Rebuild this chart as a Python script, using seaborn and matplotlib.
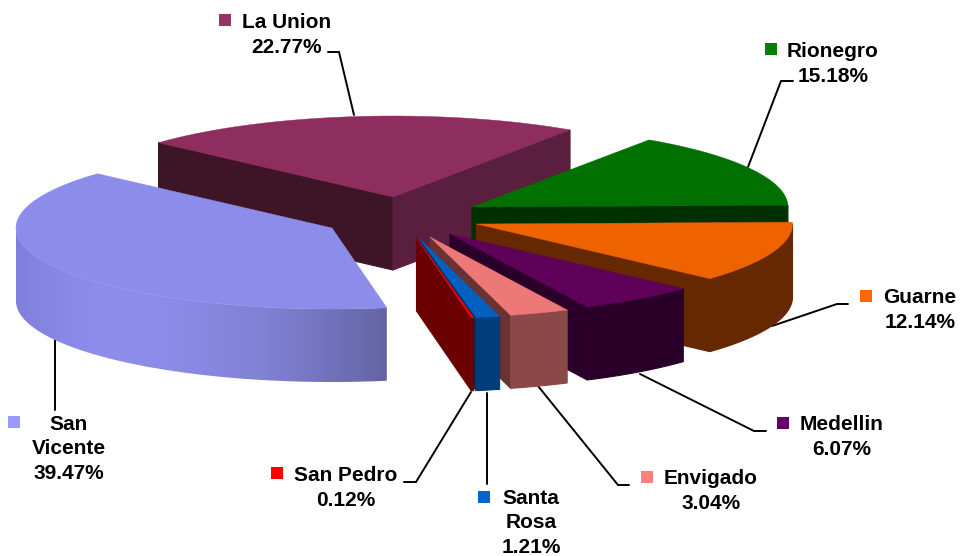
import numpy as np
import matplotlib
matplotlib.use("Agg")
import matplotlib.pyplot as plt
from matplotlib.patches import Polygon
from matplotlib.colors import LinearSegmentedColormap
import seaborn as sns

# ---- data ----
towns = ["La Union", "Rionegro", "Guarne", "Medellin", "Envigado", "Santa Rosa", "San Pedro", "San Vicente"]
shares = [22.77, 15.18, 12.14, 6.07, 3.04, 1.21, 0.12, 39.47]
label_texts = ["La Union\n22.77%", "Rionegro\n15.18%", "Guarne\n12.14%", "Medellin\n6.07%",
               "Envigado\n3.04%", "Santa\nRosa\n1.21%", "San Pedro\n0.12%", "San\nVicente\n39.47%"]
top_colors = ["#8E2E5E", "#007000", "#EE6200", "#5F0059", "#EE7777", "#0060C0", "#FF0000", "#8C8CEB"]
wall_colors = ["#5A1E3E", "#003000", "#662800", "#2A002A", "#8A4848", "#003D7A", "#6B0000", "#8C8CEB"]
cut_colors = ["#5A1E3E", "#003000", "#662800", "#2A002A", "#6A3333", "#00305F", "#6B0000", "#8C8CEB"]
cut_colors_far = ["#3D1527", "#003000", "#662800", "#2A002A", "#6A3333", "#00305F", "#6B0000", "#8C8CEB"]
key_colors = ["#993366", "#008000", "#FF6600", "#660066", "#FF8080", "#0066CC", "#FF0000", "#9999FF"]

# ---- layout (pixel space of the figure) ----
W, H = 961, 556
A, B, DEPTH = 316.0, 81.0, 73.0
START = 137.9
apex = [(393, 197), (472, 207), (476.5, 224), (450, 234), (430, 237), (419, 238), (416.5, 238), (332, 228)]
text_xy = [(287, 35), (833, 64), (920, 310), (842, 437), (711, 491), (531, 523), (346, 488), (69, 449)]
key_xy = [(224.5, 19.5), (770.5, 49), (865.5, 295.5), (782.5, 422.5), (646.5, 476.5), (484, 496.5), (277, 473), (14, 422)]
leaders = [
    [(328, 52), (339, 52), (354, 115)],
    [(748, 167), (781, 81), (793, 81)],
    [(772, 326), (837, 304), (848, 304)],
    [(640, 374), (754, 431), (766, 431)],
    [(538, 386), (618, 485), (629, 485)],
    [(487, 393), (487, 484)],
    [(471, 392), (416, 482), (404, 482)],
    [(55, 340), (55, 410)],
]

sns.set_theme(style="white")
plt.rcParams["font.family"] = ["Liberation Sans", "DejaVu Sans"]
fig = plt.figure(figsize=(W / 100, H / 100), dpi=100)
ax = fig.add_axes([0, 0, 1, 1])
palette = sns.color_palette(top_colors)

def rim(cx, cy, t):
    r = np.radians(t)
    return cx + A * np.cos(r), cy - B * np.sin(r)

order = list(range(len(towns)))
ang = START
z = 2
for i in order:
    t1 = ang
    t2 = ang - shares[i] * 3.6
    ang = t2
    cx, cy = apex[i]
    ts = np.linspace(t2, t1, 200)
    xs, ys = rim(cx, cy, ts)
    # cut faces
    for t, normal, col in ((t1, t1 + 90, cut_colors_far[i]), (t2, t2 - 90, cut_colors[i])):
        if np.sin(np.radians(normal)) < 0:
            x, y = rim(cx, cy, t)
            ax.add_patch(Polygon([(cx, cy), (x, y), (x, y + DEPTH), (cx, cy + DEPTH)],
                                 closed=True, fc=col, ec=col, lw=0.8, zorder=z))
            z += 1
    # outer wall
    vis = (np.sin(np.radians(ts)) < 0.0)
    if vis.any():
        vx, vy = xs[vis], ys[vis]
        pts = np.r_[np.c_[vx, vy], np.c_[vx, vy + DEPTH][::-1]]
        if towns[i] == "San Vicente":
            poly = Polygon(pts, closed=True, fc="none", ec="none", zorder=z)
            ax.add_patch(poly)
            cmap = LinearSegmentedColormap.from_list(
                "wall", [(0, "#8080DC"), (0.2, "#8C8CEB"), (0.42, "#8C8CE8"), (0.7, "#7F7FD2"), (1, "#6464A4")])
            img = ax.imshow(np.linspace(0, 1, 256)[None, :], cmap=cmap, vmin=0, vmax=1,
                            extent=[vx.min(), vx.max(), H, 0], aspect="auto", zorder=z)
            img.set_clip_path(poly)
        else:
            ax.add_patch(Polygon(pts, closed=True, fc=wall_colors[i], ec=wall_colors[i], lw=0.8, zorder=z))
        z += 1
    # top face
    ax.add_patch(Polygon(np.r_[[(cx, cy)], np.c_[xs, ys]], closed=True, fc=palette[i], ec=palette[i], lw=0.3, zorder=z))
    z += 1

# leaders sit behind the pie where they meet it
for path in leaders:
    p = np.array(path)
    ax.plot(p[:, 0], p[:, 1], color="black", lw=1.4, solid_joinstyle="miter", zorder=1)

for i in order:
    ax.text(*text_xy[i], label_texts[i], ha="center", va="center", fontsize=15, fontweight="bold",
            color="black", linespacing=1.36, zorder=100)
    ax.scatter(*key_xy[i], marker="s", s=72, color=key_colors[i], linewidths=0, zorder=100)

ax.set_xlim(0, W)
ax.set_ylim(H, 0)
ax.set_axis_off()
sns.despine(ax=ax, left=True, bottom=True)
fig.savefig("out.png", dpi=100, facecolor="white")
